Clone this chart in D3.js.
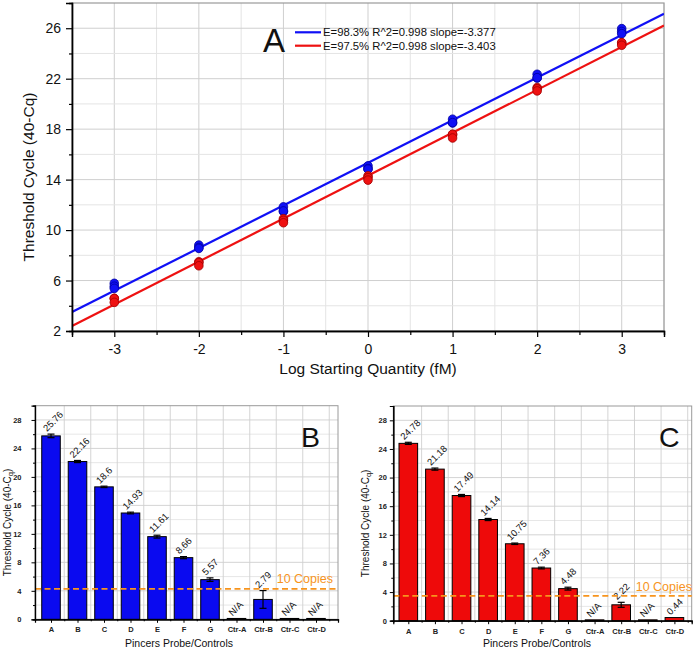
<!DOCTYPE html>
<html><head><meta charset="utf-8">
<script src="https://cdn.jsdelivr.net/npm/d3@7"></script>
<style>
body{margin:0;background:#fff}
svg{display:block;font-family:"Liberation Sans",Arial,Helvetica,sans-serif}
</style>
</head><body>
<svg id="chart" width="700" height="650"></svg>
<script>
// ---------- DATA ----------
const logQty = [-3, -2, -1, 0, 1, 2, 3];
// replicate threshold cycles (40-Cq) for each log quantity
const blueReps = [[5.78,5.55,5.38],[8.81,8.62,8.55],[11.84,11.47,11.52],[15.09,14.87,14.83],[18.79,18.49,18.52],[22.35,22.05,22.08],[25.97,25.74,25.57]];
const redReps  = [[4.59,4.58,4.27],[7.49,7.42,7.17],[10.90,10.77,10.58],[14.30,14.16,13.96],[17.57,17.60,17.30],[21.30,21.21,21.03],[24.83,24.86,24.65]];
const legendLabels = ["E=98.3% R^2=0.998 slope=-3.377", "E=97.5% R^2=0.998 slope=-3.403"];
const yTicksA = [2, 6, 10, 14, 18, 22, 26];
const xTicksA = [-3, -2, -1, 0, 1, 2, 3];

const categories = ["A","B","C","D","E","F","G","Ctr-A","Ctr-B","Ctr-C","Ctr-D"];
const valuesB = [25.76, 22.16, 18.6, 14.93, 11.61, 8.66, 5.57, null, 2.79, null, null];
const errorsB = [0.25, 0.15, 0.1, 0.12, 0.2, 0.15, 0.25, 0, 1.25, 0, 0];
const valuesC = [24.78, 21.18, 17.49, 14.14, 10.75, 7.36, 4.48, null, 2.22, null, 0.44];
const errorsC = [0.15, 0.15, 0.15, 0.15, 0.1, 0.12, 0.2, 0, 0.35, 0, 0];
const barTicks = [0, 4, 8, 12, 16, 20, 24, 28];
const thresholdB = 4.28;
const thresholdC = 3.47;
const thresholdLabel = "10 Copies";

// ---------- STYLE ----------
const BLUE = "#1010f5", RED = "#ee1111", ORANGE = "#f7941d";
const GRID_MAJOR = "#cfcfcf", GRID_MINOR = "#e4e4e4";
const svg = d3.select("#chart");

// ---------- PANEL A ----------
(function(){
  const L = 72, R = 664, T = 3, B = 331;
  const x = d3.scaleLinear([-3.5, 3.5], [L, R]);
  const y = d3.scaleLinear([2, 28], [B, T]);
  const g = svg.append("g");

  // grid
  d3.range(-3, 3.51, 0.5).forEach(v => {
    g.append("line").attr("x1", x(v)).attr("x2", x(v)).attr("y1", T).attr("y2", B)
      .attr("stroke", Number.isInteger(v) ? GRID_MAJOR : GRID_MINOR).attr("stroke-width", 1);
  });
  d3.range(4, 28, 2).forEach(v => {
    g.append("line").attr("x1", L).attr("x2", R).attr("y1", y(v)).attr("y2", y(v))
      .attr("stroke", (v - 2) % 4 === 0 ? GRID_MAJOR : GRID_MINOR).attr("stroke-width", 1);
  });
  // frame
  g.append("rect").attr("x", L).attr("y", T).attr("width", R - L).attr("height", B - T)
    .attr("fill", "none").attr("stroke", "#9a9a9a").attr("stroke-width", 1.2);

  // fits (least squares from replicates)
  svg.append("clipPath").attr("id", "clipA").append("rect")
    .attr("x", L).attr("y", T).attr("width", R - L).attr("height", B - T);
  function fit(reps) {
    const pts = [];
    reps.forEach((r, i) => r.forEach(v => pts.push([logQty[i], v])));
    const mx = d3.mean(pts, p => p[0]), my = d3.mean(pts, p => p[1]);
    const sxy = d3.sum(pts, p => (p[0] - mx) * (p[1] - my));
    const sxx = d3.sum(pts, p => (p[0] - mx) ** 2);
    const m = sxy / sxx, b = my - m * mx;
    return [[-3.5, b - 3.5 * m], [3.5, b + 3.5 * m]];
  }
  const line = d3.line().x(d => x(d[0])).y(d => y(d[1]));
  [[blueReps, BLUE], [redReps, RED]].forEach(([reps, col]) => {
    g.append("path").attr("d", line(fit(reps))).attr("stroke", col).attr("stroke-width", 2.2)
      .attr("fill", "none").attr("clip-path", "url(#clipA)");
  });
  [[blueReps, BLUE, "#0000a0"], [redReps, RED, "#a00000"]].forEach(([reps, col, st]) => {
    reps.forEach((r, i) => r.forEach(v => {
      g.append("circle").attr("cx", x(logQty[i])).attr("cy", y(v)).attr("r", 4.3)
        .attr("fill", col).attr("stroke", st).attr("stroke-width", 0.8);
    }));
  });

  // axes
  const ya = g.append("g").attr("transform", `translate(${L},0)`)
    .call(d3.axisLeft(y).tickValues(yTicksA).tickSize(6).tickPadding(5));
  g.append("g").attr("transform", `translate(${L},0)`)
    .call(d3.axisLeft(y).tickValues(d3.range(4, 28, 4)).tickSize(3).tickFormat(""));
  const xa = g.append("g").attr("transform", `translate(0,${B})`)
    .call(d3.axisBottom(x).tickValues(xTicksA).tickSize(6).tickPadding(7).tickFormat(d => String(d)));
  g.append("g").attr("transform", `translate(0,${B})`)
    .call(d3.axisBottom(x).tickValues(d3.range(-2.5, 3, 1)).tickSize(4).tickFormat(""));
  g.selectAll(".domain").attr("stroke", "#000").attr("stroke-width", 1.4);
  g.selectAll(".tick line").attr("stroke", "#000").attr("stroke-width", 1.2);
  [ya, xa].forEach(a => a.selectAll("text").attr("font-size", 14).attr("fill", "#111")
    .attr("font-family", "Liberation Sans, Arial, sans-serif"));
  g.append("g").attr("transform", `translate(0,${B})`)
    .call(d3.axisBottom(x).tickValues([-3.5, 3.5]).tickSize(4).tickFormat(""))
    .selectAll(".domain").remove();

  // titles
  g.append("text").attr("x", x(0)).attr("y", 374).attr("text-anchor", "middle")
    .attr("font-size", 15.5).attr("fill", "#111").text("Log Starting Quantity (fM)");
  g.append("text").attr("transform", `translate(33.5,${(T + B) / 2 + 10}) rotate(-90)`)
    .attr("text-anchor", "middle").attr("font-size", 15.5).attr("fill", "#111")
    .text("Threshold Cycle (40-Cq)");

  // legend
  g.append("text").attr("x", 263).attr("y", 52).attr("font-size", 33).attr("fill", "#111").text("A");
  [BLUE, RED].forEach((col, i) => {
    const ly = 32.3 + i * 13.4;
    g.append("line").attr("x1", 295).attr("x2", 321).attr("y1", ly).attr("y2", ly)
      .attr("stroke", col).attr("stroke-width", 2.2);
    g.append("text").attr("x", 323).attr("y", ly + 4).attr("font-size", 11.3).attr("fill", "#111")
      .text(legendLabels[i]);
  });
})();

// ---------- BAR PANELS ----------
function barPanel(cfg) {
  const {L, R, T, B, dom, values, errors, color, threshold, letter, letterX, copiesX, copiesY, titleX} = cfg;
  const x = d3.scaleLinear(dom, [L, R]);
  const y = d3.scaleLinear([0, 30], [B, T]);
  const step = x(1) - x(0);
  const bw = step * 0.7;
  const g = svg.append("g");

  d3.range(2, 30, 2).forEach(v => {
    g.append("line").attr("x1", L).attr("x2", R).attr("y1", y(v)).attr("y2", y(v))
      .attr("stroke", v % 4 === 0 ? GRID_MAJOR : GRID_MINOR).attr("stroke-width", 0.9);
  });
  d3.range(0.5, 10.6, 1).forEach(v => {
    g.append("line").attr("x1", x(v)).attr("x2", x(v)).attr("y1", T).attr("y2", B)
      .attr("stroke", GRID_MAJOR).attr("stroke-width", 0.9);
  });
  g.append("rect").attr("x", L).attr("y", T).attr("width", R - L).attr("height", B - T)
    .attr("fill", "none").attr("stroke", "#9a9a9a").attr("stroke-width", 1);

  // bars
  values.forEach((v, i) => {
    const h = v === null ? 0.12 : v;
    g.append("rect").attr("x", x(i) - bw / 2).attr("y", y(h)).attr("width", bw)
      .attr("height", y(0) - y(h)).attr("fill", color).attr("stroke", "#000").attr("stroke-width", 1);
    const e = errors[i];
    if (v !== null && e > 0) {
      g.append("line").attr("x1", x(i)).attr("x2", x(i)).attr("y1", y(v - e)).attr("y2", y(v + e))
        .attr("stroke", "#000").attr("stroke-width", 1.2);
      [v - e, v + e].forEach(c => g.append("line").attr("x1", x(i) - 3.5).attr("x2", x(i) + 3.5)
        .attr("y1", y(c)).attr("y2", y(c)).attr("stroke", "#000").attr("stroke-width", 1.2));
    }
    const top = y(h + (v === null ? 0 : e));
    g.append("text").attr("transform", `translate(${x(i) - 4},${top - 2}) rotate(-45)`)
      .attr("font-size", 9.5).attr("fill", "#111").text(v === null ? "N/A" : String(v));
  });

  // threshold
  g.append("line").attr("x1", L).attr("x2", R).attr("y1", y(threshold)).attr("y2", y(threshold))
    .attr("stroke", ORANGE).attr("stroke-width", 1.8).attr("stroke-dasharray", "6,3.5");
  g.append("text").attr("x", copiesX).attr("y", copiesY).attr("text-anchor", "end")
    .attr("font-size", 12.5).attr("fill", ORANGE).text(thresholdLabel);

  // axes
  const ya = g.append("g").attr("transform", `translate(${L},0)`)
    .call(d3.axisLeft(y).tickValues(barTicks).tickSize(3.5).tickPadding(cfg.yPad));
  g.append("g").attr("transform", `translate(${L},0)`)
    .call(d3.axisLeft(y).tickValues(d3.range(2, 30, 4)).tickSize(2).tickFormat(""));
  const xa = g.append("g").attr("transform", `translate(0,${B})`)
    .call(d3.axisBottom(x).tickValues(d3.range(0, 11)).tickSize(3.5).tickPadding(4).tickFormat(i => categories[i]));
  g.append("g").attr("transform", `translate(0,${B})`)
    .call(d3.axisBottom(x).tickValues(d3.range(0.5, 10.6, 1)).tickSize(2).tickFormat(""));
  g.selectAll(".domain").attr("stroke", "#000").attr("stroke-width", 1.2);
  g.selectAll(".tick line").attr("stroke", "#000");
  [ya, xa].forEach(a => a.selectAll("text").attr("font-size", 7.5).attr("font-weight", "bold")
    .attr("fill", "#222").attr("font-family", "Liberation Sans, Arial, sans-serif"));

  g.append("text").attr("x", titleX).attr("y", 647).attr("text-anchor", "middle")
    .attr("font-size", 10.5).attr("fill", "#111").text("Pincers Probe/Controls");
  const yt = g.append("text").attr("transform", `translate(${L - 24.5},${(T + B) / 2 + 10}) rotate(-90)`)
    .attr("text-anchor", "middle").attr("font-size", 10).attr("fill", "#111");
  yt.append("tspan").text("Threshold Cycle (40-C");
  yt.append("tspan").attr("font-size", 7.5).attr("dy", 2).text("q");
  yt.append("tspan").attr("dy", -2).text(")");

  g.append("text").attr("x", letterX).attr("y", 447).attr("font-size", 28.5).attr("fill", "#111").text(letter);
}

barPanel({L: 35, R: 338, T: 405.7, B: 619.3, dom: [-0.604, 10.83], values: valuesB, errors: errorsB,
  color: "#0a0af0", threshold: thresholdB, letter: "B", letterX: 301, copiesX: 333, copiesY: 583, titleX: 179, yPad: 10});
barPanel({L: 393.3, R: 691.7, T: 406, B: 620.7, dom: [-0.564, 10.65], values: valuesC, errors: errorsC,
  color: "#ee0a0a", threshold: thresholdC, letter: "C", letterX: 659, copiesX: 692, copiesY: 591, titleX: 537, yPad: 3});
</script>
</body></html>
